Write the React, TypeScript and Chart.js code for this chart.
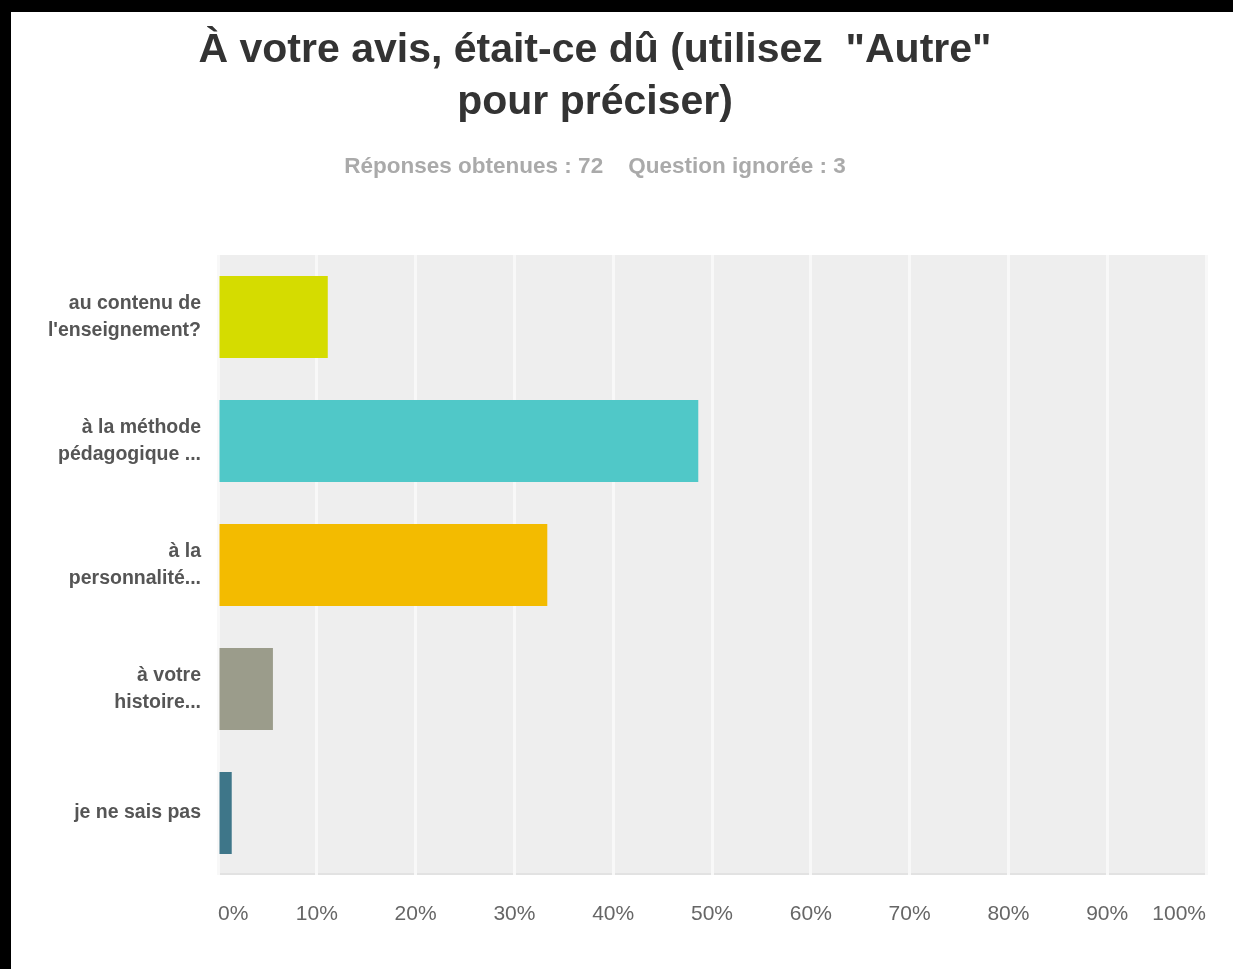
import React, { useEffect, useRef } from "react";
import { Chart, registerables } from "chart.js";

Chart.register(...registerables);

const titleLines = ['À votre avis, était-ce dû (utilisez  "Autre"', "pour préciser)"];
const subtitleText = "Réponses obtenues : 72    Question ignorée : 3";
const categories: (string | string[])[] = [
  ["au contenu de", "l'enseignement?"],
  ["à la méthode", "pédagogique ..."],
  ["à la", "personnalité..."],
  ["à votre", "histoire..."],
  "je ne sais pas",
];
const percentages = [11.11, 48.61, 33.33, 5.56, 1.39];
const barColors = ["#d5dc00", "#50c8c8", "#f3bb00", "#9b9c8b", "#3e7689"];
const tickValues = [0, 10, 20, 30, 40, 50, 60, 70, 80, 90, 100];

const FONT = "Liberation Sans, Arial, sans-serif";

const plotBg = {
  id: "plotBg",
  beforeDraw(chart: any) {
    const { ctx, chartArea } = chart;
    ctx.save();
    ctx.fillStyle = "#eeeeee";
    ctx.fillRect(chartArea.left, chartArea.top, chartArea.right - chartArea.left, chartArea.bottom - chartArea.top);
    ctx.fillStyle = "#e2e2e2";
    ctx.fillRect(chartArea.left, chartArea.bottom - 2, chartArea.right - chartArea.left, 2);
    ctx.restore();
  },
};

export default function App() {
  const ref = useRef<HTMLCanvasElement>(null);
  useEffect(() => {
    if (!ref.current) return;
    const chart = new Chart(ref.current, {
      type: "bar",
      data: {
        labels: categories,
        datasets: [
          {
            data: percentages,
            backgroundColor: barColors,
            borderWidth: 0,
            barPercentage: 0.66,
            categoryPercentage: 1,
          },
        ],
      },
      options: {
        indexAxis: "y",
        responsive: false,
        animation: false,
        layout: { padding: { left: 0, right: 24, top: 0, bottom: 0 } },
        plugins: {
          legend: { display: false },
          tooltip: { enabled: false },
          title: {
            display: true,
            text: titleLines,
            color: "#333333",
            font: { family: FONT, size: 41, weight: "bold", lineHeight: "52px" },
            padding: { top: 13, bottom: 26 },
          },
          subtitle: {
            display: true,
            text: subtitleText,
            color: "#aaaaaa",
            font: { family: FONT, size: 22.5, weight: "bold", lineHeight: "24px" },
            padding: { top: 0, bottom: 76 },
          },
        },
        scales: {
          x: {
            min: 0,
            max: 100,
            afterBuildTicks(scale: any) {
              scale.ticks = tickValues.map((v) => ({ value: v }));
            },
            afterFit(scale: any) {
              scale.height = 94;
            },
            grid: { color: "#f8f8f8", lineWidth: 3, drawTicks: false },
            border: { display: false },
            ticks: {
              align: "inner",
              padding: 27,
              maxRotation: 0,
              autoSkip: false,
              color: "#666666",
              font: { family: FONT, size: 21 },
              callback: (v: any) => v + "%",
            },
          },
          y: {
            afterFit(scale: any) {
              scale.width = 237;
            },
            grid: { display: false, drawTicks: false },
            border: { display: false },
            ticks: {
              padding: 17,
              color: "#555555",
              font: { family: FONT, size: 19.5, weight: "bold", lineHeight: "27px" },
            },
          },
        },
      },
      plugins: [plotBg],
    });
    return () => chart.destroy();
  }, []);

  return (
    <div style={{ position: "fixed", left: 0, top: 0, width: 1233, height: 969, background: "#fff", overflow: "hidden" }}>
      <canvas
        ref={ref}
        width={1252}
        height={957}
        style={{ display: "block", position: "absolute", left: -19, top: 12 }}
      />
      <div style={{ position: "absolute", left: 0, top: 0, width: 1233, height: 12, background: "#000" }} />
      <div style={{ position: "absolute", left: 0, top: 0, width: 11, height: 969, background: "#000" }} />
    </div>
  );
}
